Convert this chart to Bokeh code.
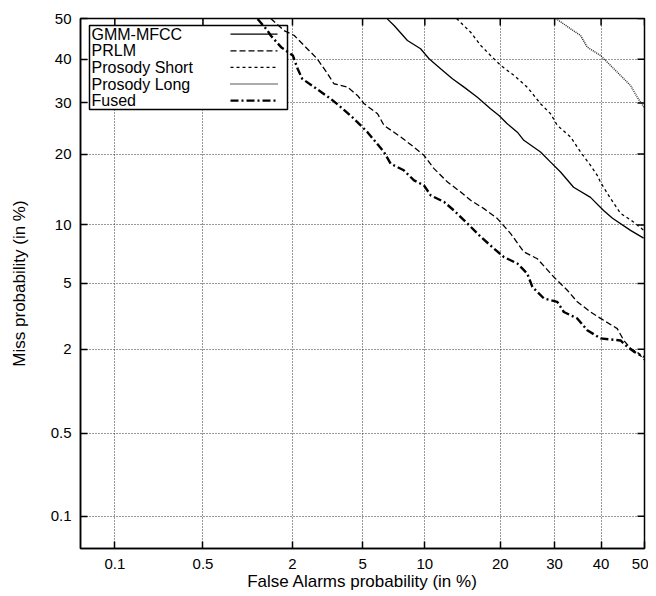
import math
from bokeh.plotting import figure
from bokeh.models import Range1d, FixedTicker, CustomJSTickFormatter
from bokeh.core.properties import value
from bokeh.embed import file_html
from bokeh.resources import INLINE

# ---------------- data (percent) ----------------
tick_values = [0.1, 0.5, 2, 5, 10, 20, 30, 40, 50]
tick_labels = ["0.1", "0.5", "2", "5", "10", "20", "30", "40", "50"]
axis_min_pct = 0.05
axis_max_pct = 50.0

series_names = ["GMM-MFCC", "PRLM", "Prosody Short", "Prosody Long", "Fused"]

gmm_fa = [6.67, 7.20, 8.33, 9.57, 10.44, 11.71, 13.12, 14.62, 16.48, 18.45, 19.80, 21.16,
          22.91, 24.07, 27.21, 29.19, 31.21, 33.95, 37.64, 40.56, 42.60, 46.75, 49.8]
gmm_miss = [49.9, 48.27, 44.57, 42.54, 40.13, 37.75, 35.42, 33.50, 31.26, 28.78, 27.36, 25.69,
            24.02, 22.47, 20.35, 18.63, 17.03, 14.74, 13.34, 11.67, 10.75, 9.42, 8.63]

prlm_fa = [1.46, 1.77, 2.05, 2.35, 2.81, 3.22, 3.50, 4.16, 4.70, 5.10, 5.97, 6.43, 7.75, 8.94,
           9.91, 10.97, 12.52, 14.18, 15.52, 17.45, 19.54, 21.74, 24.07, 26.59, 29.85, 32.62,
           34.74, 37.64, 39.88, 43.68, 45.20, 46.75, 48.67, 49.84]
prlm_miss = [50.0, 47.03, 45.80, 43.35, 40.13, 36.59, 34.27, 33.50, 31.64, 29.83, 27.71, 25.35,
             23.09, 21.22, 19.78, 17.57, 15.50, 14.07, 12.95, 11.89, 10.71, 9.09, 7.37, 6.79,
             5.42, 4.58, 3.93, 3.42, 3.13, 2.71, 2.28, 2.03, 1.88, 1.70]

short_fa = [13.64, 15.52, 16.97, 18.45, 20.08, 22.32, 24.70, 27.21, 29.19, 30.53, 33.32, 35.46,
            37.64, 39.14, 39.88, 42.13, 44.44, 47.44, 49.84]
short_miss = [50.0, 46.61, 43.35, 40.92, 38.53, 36.19, 33.50, 29.83, 27.71, 25.35, 23.09, 20.35,
              18.09, 16.51, 15.45, 13.21, 11.32, 10.33, 9.42]

long_fa = [30.25, 33.32, 35.46, 36.92, 39.88, 42.90, 46.75, 48.30, 49.84]
long_miss = [50.0, 47.45, 45.80, 42.94, 40.92, 37.75, 33.88, 31.26, 29.12]

fused_fa = [1.20, 1.39, 1.46, 1.70, 2.01, 2.15, 2.29, 2.70, 3.36, 3.82, 4.50, 5.30, 6.43, 6.93,
            8.01, 8.94, 9.91, 10.62, 12.11, 13.31, 15.08, 16.97, 18.99, 20.61, 22.91, 24.70,
            25.65, 27.86, 30.53, 31.90, 34.74, 36.92, 39.88, 44.44, 45.98, 47.51, 49.84]
fused_miss = [49.9, 47.03, 45.80, 42.94, 40.92, 37.75, 35.42, 33.50, 30.90, 29.12, 26.70, 24.02,
              20.35, 18.36, 17.30, 15.74, 15.02, 13.60, 12.74, 11.67, 10.15, 8.76, 7.66, 6.93,
              6.41, 5.66, 4.78, 4.11, 3.93, 3.42, 3.13, 2.65, 2.35, 2.28, 2.08, 1.93, 1.78]

x_title = "False Alarms probability (in %)"
y_title = "Miss probability (in %)"


# ---------------- normal deviate (probit) transform ----------------
_A = [-3.969683028665376e+01, 2.209460984245205e+02, -2.759285104469687e+02,
      1.383577518672690e+02, -3.066479806614716e+01, 2.506628277459239e+00]
_B = [-5.447609879822406e+01, 1.615858368580409e+02, -1.556989798598866e+02,
      6.680131188771972e+01, -1.328068155288572e+01]
_C = [-7.784894002430293e-03, -3.223964580411365e-01, -2.400758277161838e+00,
      -2.549732539343734e+00, 4.374664141464968e+00, 2.938163982698783e+00]
_D = [7.784695709041462e-03, 3.224671290700398e-01, 2.445134137142996e+00,
      3.754408661907416e+00]


def ppf(p):
    plow = 0.02425
    if p < plow:
        q = math.sqrt(-2 * math.log(p))
        return ((((( _C[0]*q + _C[1])*q + _C[2])*q + _C[3])*q + _C[4])*q + _C[5]) / \
               ((((_D[0]*q + _D[1])*q + _D[2])*q + _D[3])*q + 1)
    if p <= 1 - plow:
        q = p - 0.5
        r = q * q
        return (((((_A[0]*r + _A[1])*r + _A[2])*r + _A[3])*r + _A[4])*r + _A[5])*q / \
               (((((_B[0]*r + _B[1])*r + _B[2])*r + _B[3])*r + _B[4])*r + 1)
    q = math.sqrt(-2 * math.log(1 - p))
    return -((((( _C[0]*q + _C[1])*q + _C[2])*q + _C[3])*q + _C[4])*q + _C[5]) / \
           ((((_D[0]*q + _D[1])*q + _D[2])*q + _D[3])*q + 1)


def probit(values):
    return [ppf(v / 100.0) for v in values]


# ---------------- figure ----------------
BL, BR, BT, BB = 80, 4, 18, 48
FRAME_W, FRAME_H = 564, 530
X0, X1 = ppf(axis_min_pct / 100), ppf(axis_max_pct / 100)
Y0, Y1 = X0, X1
FONT = "Liberation Sans"

p = figure(width=BL + FRAME_W + BR, height=BT + FRAME_H + BB,
           x_range=Range1d(X0, X1), y_range=Range1d(Y0, Y1),
           output_backend="svg", toolbar_location=None,
           min_border_left=BL, min_border_right=BR, min_border_top=BT, min_border_bottom=BB,
           x_axis_label=x_title, y_axis_label=y_title)
p.background_fill_color = "white"
p.border_fill_color = "white"
p.outline_line_color = "black"
p.outline_line_width = 1.5

tick_pos = probit(tick_values)
fmt = CustomJSTickFormatter(args=dict(vals=tick_pos, labs=tick_labels), code="""
for (let i = 0; i < vals.length; i++) {
  if (Math.abs(vals[i] - tick) < 1e-6) { return labs[i]; }
}
return "";
""")

for ax in (p.xaxis[0], p.yaxis[0]):
    ax.ticker = FixedTicker(ticks=tick_pos)
    ax.formatter = fmt
    ax.major_tick_in = 7
    ax.major_tick_out = 0
    ax.minor_tick_line_color = None
    ax.major_label_text_font = FONT
    ax.major_label_text_font_size = "15px"
    ax.major_label_text_color = "black"
    ax.axis_label_text_font = FONT
    ax.axis_label_text_font_style = "normal"
    ax.axis_label_text_color = "black"
    ax.axis_line_width = 1.5
    ax.major_tick_line_width = 1.5

p.xaxis[0].major_label_standoff = 10
p.xaxis[0].axis_label_text_font_size = "17px"
p.xaxis[0].axis_label_standoff = 0
p.yaxis[0].major_label_standoff = 9
p.yaxis[0].axis_label_text_font_size = "17px"
p.yaxis[0].axis_label_standoff = 19

for g in (p.xgrid[0], p.ygrid[0]):
    g.ticker = FixedTicker(ticks=tick_pos)
    g.grid_line_color = "#333333"
    g.grid_line_dash = "1 2"
    g.grid_line_width = 1

DX = (X1 - X0) / FRAME_W   # data units per pixel
DY = (Y1 - Y0) / FRAME_H


def fx(px):
    return X0 + px * DX


def fy(py):
    return Y1 - py * DY


# mirrored inward ticks on the top and right edges
TICK = 7
p.segment(x0=tick_pos, x1=tick_pos, y0=[Y1] * len(tick_pos), y1=[Y1 - TICK * DY] * len(tick_pos),
          line_color="black", line_width=1.5)
p.segment(x0=[X1] * len(tick_pos), x1=[X1 - TICK * DX] * len(tick_pos), y0=tick_pos, y1=tick_pos,
          line_color="black", line_width=1.5)

# legend box (frame pixel layout)
p.quad(left=[fx(9)], right=[fx(207)], top=[fy(7)], bottom=[fy(91)],
       fill_color="white", line_color="black", line_width=1.5)

styles = [
    dict(line_dash="solid", line_width=1.3, line_color="black"),
    dict(line_dash="6 3", line_width=1.3, line_color="black"),
    dict(line_dash="3 3", line_width=1.3, line_color="black"),
    dict(line_dash="1 1", line_width=1.4, line_color="#222222"),
    dict(line_dash="8 3 2 3", line_width=2.4, line_color="black"),
]

for i, (name, st) in enumerate(zip(series_names, styles)):
    ry = fy(15.7 + i * 16.6)
    p.text(x=[fx(11)], y=[ry], text=[name], text_font=value(FONT), text_font_size="16px",
           text_baseline="middle", text_align="left", text_color="black")
    p.line(x=[fx(150), fx(197)], y=[ry, ry], **st)

curves = [(gmm_fa, gmm_miss), (prlm_fa, prlm_miss), (short_fa, short_miss),
          (long_fa, long_miss), (fused_fa, fused_miss)]
for (fa, miss), st in zip(curves, styles):
    p.line(x=probit(fa), y=probit(miss), line_join="round", **st)

open("out.html", "w").write(file_html(p, INLINE))
